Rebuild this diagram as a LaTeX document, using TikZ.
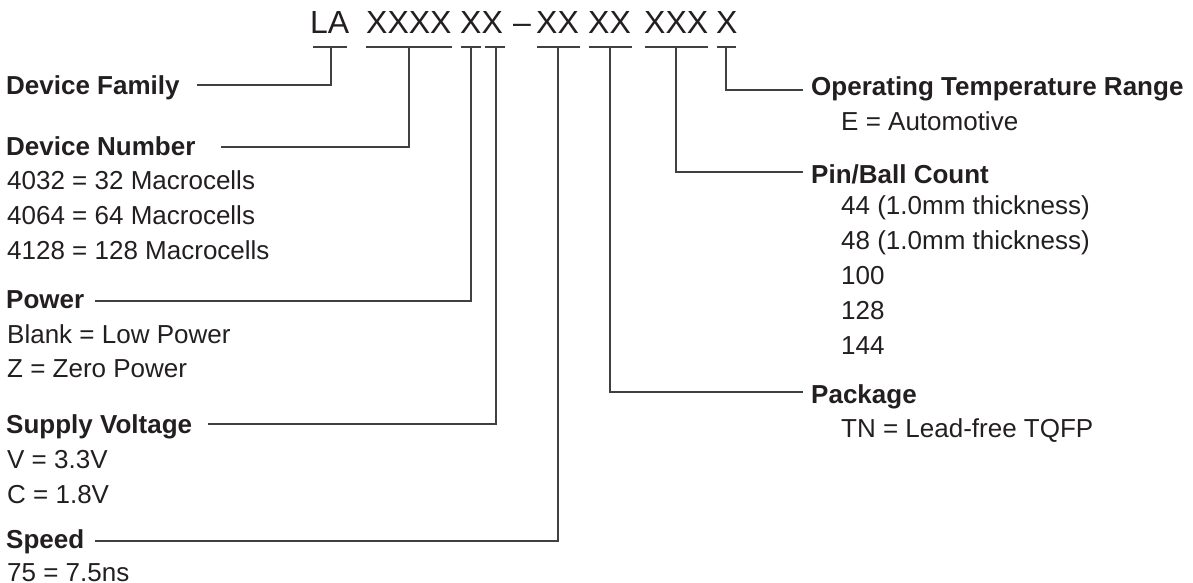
\documentclass[tikz,border=0pt]{standalone}
\usepackage{fontspec}
\setmainfont{Liberation Sans}
\definecolor{ink}{HTML}{231F20}
\definecolor{rulec}{HTML}{404040}
\begin{document}
\begin{tikzpicture}[x=1pt,y=-1pt,
  lab/.style={anchor=base west,inner sep=0pt,text=ink,font=\fontsize{26}{30}\selectfont\bfseries},
  val/.style={anchor=base west,inner sep=0pt,text=ink,font=\fontsize{26}{30}\selectfont},
  ttl/.style={anchor=base west,inner sep=0pt,text=ink,font=\fontsize{32}{36}\selectfont},
  conn/.style={draw=rulec,line width=1.5pt},
  uline/.style={draw=rulec,line width=1.5pt}]
\useasboundingbox (0,0) rectangle (1193,582);

% title groups
\node[ttl] (t1) at (310,33) {LA};
\node[ttl] (t2) at (366,33) {XXXX};
\node[ttl] (t3) at (460,33) {XX};
\node[ttl] (t4) at (513,33) {–};
\node[ttl] (t5) at (536,33) {XX};
\node[ttl] (t6) at (588,33) {XX};
\node[ttl] (t7) at (644,33) {XXX};
\node[ttl] (t8) at (716,33) {X};

% underlines
\draw[uline] (313,47) -- (347,47);
\draw[uline] (366,47) -- (452,47);
\draw[uline] (461,47) -- (481,47);
\draw[uline] (485,47) -- (505,47);
\draw[uline] (537,47) -- (580,47);
\draw[uline] (589,47) -- (632,47);
\draw[uline] (645,47) -- (708,47);
\draw[uline] (717,47) -- (736,47);

% connector start points (underline centres)
\coordinate (uLA)  at (331,47);
\coordinate (uNum) at (409,47);
\coordinate (uPow) at (471,47);
\coordinate (uSup) at (496,47);
\coordinate (uSpd) at (558,47);
\coordinate (uPkg) at (610,47);
\coordinate (uPin) at (676,47);
\coordinate (uOp)  at (726,47);

% connector end points
\coordinate (eFam) at (197,85);
\coordinate (eNum) at (221,147);
\coordinate (ePow) at (95,301);
\coordinate (eSup) at (208,424);
\coordinate (eSpd) at (95,541);
\coordinate (eOp)  at (803,90);
\coordinate (ePin) at (803,172);
\coordinate (ePkg) at (803,392);

% left column
\node[lab] (fam) at (6,94) {Device Family};
\node[lab] (num) at (6,155) {Device Number};
\node[val] (n1) at (7,189) {4032 = 32 Macrocells};
\node[val] (n2) at (7,224) {4064 = 64 Macrocells};
\node[val] (n3) at (7,259) {4128 = 128 Macrocells};
\node[lab] (pow) at (6,308) {Power};
\node[val] (p1) at (7,343) {Blank = Low Power};
\node[val] (p2) at (7,377) {Z = Zero Power};
\node[lab] (sup) at (6,433) {Supply Voltage};
\node[val] (s1) at (7,468) {V = 3.3V};
\node[val] (s2) at (7,503) {C = 1.8V};
\node[lab] (spd) at (6,548) {Speed};
\node[val] (sp1) at (7,581) {75 = 7.5ns};

% right column
\node[lab] (op) at (811,95) {Operating Temperature Range};
\node[val] (o1) at (841,130) {E = Automotive};
\node[lab] (pin) at (811,183) {Pin/Ball Count};
\node[val] (c1) at (841,214) {44 (1.0mm thickness)};
\node[val] (c2) at (841,249) {48 (1.0mm thickness)};
\node[val] (c3) at (841,284) {100};
\node[val] (c4) at (841,319) {128};
\node[val] (c5) at (841,354) {144};
\node[lab] (pkg) at (811,403) {Package};
\node[val] (k1) at (841,437) {TN = Lead-free TQFP};

% connectors
\draw[conn] (uLA)  |- (eFam);
\draw[conn] (uNum) |- (eNum);
\draw[conn] (uPow) |- (ePow);
\draw[conn] (uSup) |- (eSup);
\draw[conn] (uSpd) |- (eSpd);
\draw[conn] (uOp)  |- (eOp);
\draw[conn] (uPin) |- (ePin);
\draw[conn] (uPkg) |- (ePkg);
\end{tikzpicture}
\end{document}
